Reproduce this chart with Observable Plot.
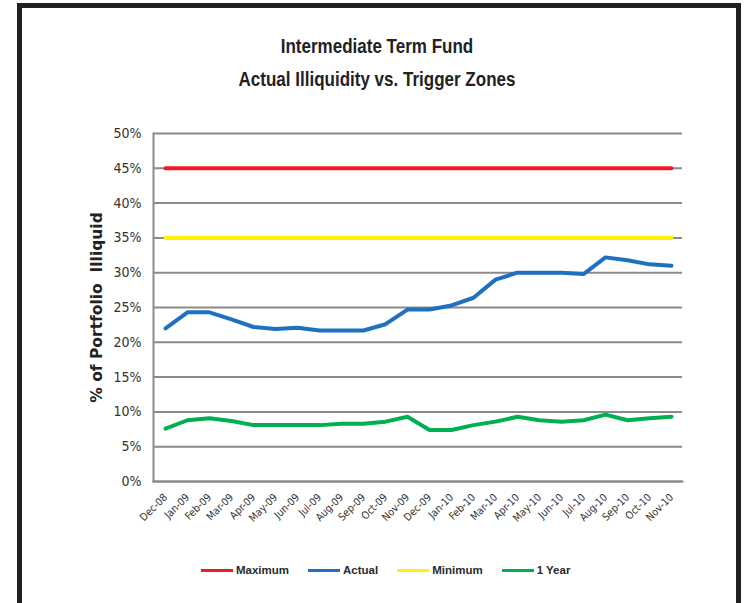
<!DOCTYPE html>
<html>
<head>
<meta charset="utf-8">
<script src="https://cdn.jsdelivr.net/npm/d3@7"></script>
<script src="https://cdn.jsdelivr.net/npm/@observablehq/plot@0.6"></script>
<style>
  html, body { margin: 0; padding: 0; background: #fff; }
  #wrap { position: relative; width: 750px; height: 603px; overflow: hidden; background: #fff; }
  #frame { position: absolute; left: 17px; top: 3px; width: 714px; height: 700px;
           border: 5px solid #231f20; border-bottom: none; }
  #title { position: absolute; left: 0; width: 754px; top: 29px; text-align: center;
           font-family: "Liberation Sans", Arial, sans-serif;
           font-weight: bold; font-size: 21px; line-height: 33px; color: #222;
           transform: scaleX(0.81); transform-origin: 377px 0; }
  #chart { position: absolute; left: 0; top: 0; }
  #legend { position: absolute; top: 564px; left: 201px; display: flex; align-items: center;
            font-family: "Liberation Sans", Arial, sans-serif; font-weight: bold; font-size: 11.5px; color: #2a2a2a; }
  .item { display: flex; align-items: center; margin-right: 19px; }
  .sw { width: 32px; height: 3px; margin-right: 3px; }
</style>
</head>
<body>
<div id="wrap">
  <div id="chart"></div>
  <div id="frame"></div>
  <div id="title">Intermediate Term Fund<br>Actual Illiquidity vs. Trigger Zones</div>
  <div id="legend"></div>
</div>
<script>
const months = ["Dec-08","Jan-09","Feb-09","Mar-09","Apr-09","May-09","Jun-09","Jul-09","Aug-09","Sep-09","Oct-09","Nov-09",
                "Dec-09","Jan-10","Feb-10","Mar-10","Apr-10","May-10","Jun-10","Jul-10","Aug-10","Sep-10","Oct-10","Nov-10"];
const maximum = months.map(() => 0.45);
const minimum = months.map(() => 0.35);
const actual = [0.220,0.243,0.243,0.233,0.222,0.219,0.221,0.217,0.217,0.217,0.226,0.247,
                0.247,0.253,0.264,0.290,0.300,0.300,0.300,0.298,0.322,0.318,0.312,0.310];
const oneYear = [0.076,0.088,0.091,0.087,0.081,0.081,0.081,0.081,0.083,0.083,0.086,0.093,
                 0.074,0.074,0.081,0.086,0.093,0.088,0.086,0.088,0.096,0.088,0.091,0.093];
const yTicks = [0,0.05,0.10,0.15,0.20,0.25,0.30,0.35,0.40,0.45,0.50];
const seriesNames = ["Maximum","Actual","Minimum","1 Year"];
const seriesColors = ["#ed1c24","#1f70c1","#fff200","#00b050"];
const seriesValues = [maximum, actual, minimum, oneYear];

const rows = [];
seriesNames.forEach((s, i) => months.forEach((m, j) => rows.push({series: s, month: m, value: seriesValues[i][j]})));

const gray = "#8a8a8a";
const chart = Plot.plot({
  width: 750,
  height: 603,
  marginTop: 133,
  marginBottom: 122,
  marginLeft: 153,
  marginRight: 68,
  style: {background: "transparent", fontFamily: "\"DejaVu Sans Condensed\", \"Liberation Sans\", sans-serif", color: "#333"},
  x: {type: "band", domain: months, padding: 0, label: null},
  y: {domain: [0, 0.5], label: null},
  color: {domain: seriesNames, range: seriesColors},
  marks: [
    Plot.gridY(yTicks, {stroke: gray, strokeOpacity: 1, strokeWidth: 2}),
    Plot.axisY(yTicks, {tickSize: 0, tickPadding: 12, tickFormat: d3.format(".0%"), fontSize: 14, label: null}),
    Plot.axisX({tickSize: 0, tickPadding: 14, tickRotate: -45, fontSize: 10.5, label: null}),
    Plot.frame({anchor: "left", stroke: gray, strokeWidth: 2}),
    Plot.frame({anchor: "bottom", stroke: gray, strokeWidth: 2}),
    Plot.lineY(rows, {x: "month", y: "value", z: "series", stroke: "series", strokeWidth: 4, strokeLinejoin: "round", strokeLinecap: "round"}),
    Plot.text(["% of Portfolio  Illiquid"], {frameAnchor: "left", textAnchor: "middle", dx: -56, rotate: -90, fontSize: 15.5, fontWeight: "bold",
      fontFamily: "\"DejaVu Sans\", sans-serif", fill: "#222"})
  ]
});
document.getElementById("chart").appendChild(chart);

const legend = document.getElementById("legend");
seriesNames.forEach((s, i) => {
  const it = document.createElement("div");
  it.className = "item";
  it.innerHTML = `<div class="sw" style="background:${seriesColors[i]}"></div><span>${s}</span>`;
  legend.appendChild(it);
});
</script>
</body>
</html>
